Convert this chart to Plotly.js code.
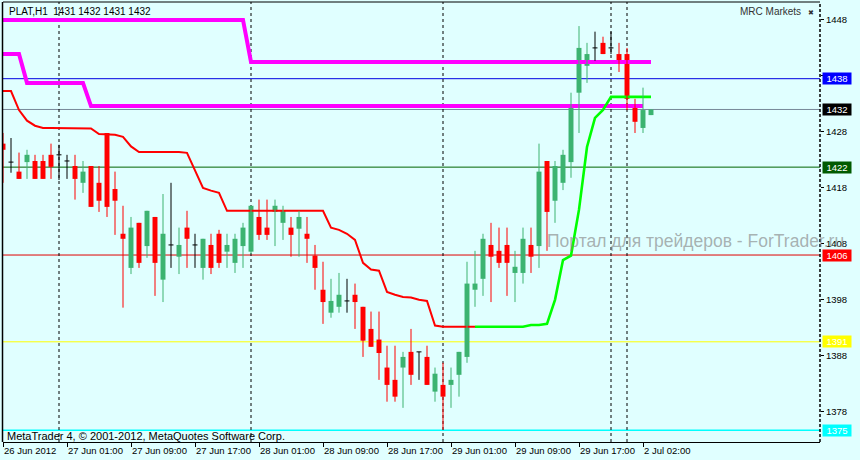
<!DOCTYPE html>
<html><head><meta charset="utf-8">
<script src="https://cdn.plot.ly/plotly-3.0.1.min.js"></script>
<style>html,body{margin:0;padding:0;background:#e0ffff;}#chart{width:860px;height:460px;}</style>
</head><body><div id="chart"></div>
<script>
// ---- bar times (H1) ----
const times = [
"2012.06.26 17:00","2012.06.26 18:00","2012.06.26 19:00","2012.06.26 20:00","2012.06.26 21:00","2012.06.26 22:00","2012.06.26 23:00",
"2012.06.27 00:00","2012.06.27 01:00","2012.06.27 02:00","2012.06.27 03:00","2012.06.27 04:00","2012.06.27 05:00","2012.06.27 06:00","2012.06.27 07:00",
"2012.06.27 08:00","2012.06.27 09:00","2012.06.27 10:00","2012.06.27 11:00","2012.06.27 12:00","2012.06.27 13:00","2012.06.27 14:00","2012.06.27 15:00",
"2012.06.27 16:00","2012.06.27 17:00","2012.06.27 18:00","2012.06.27 19:00","2012.06.27 20:00","2012.06.27 21:00","2012.06.27 22:00","2012.06.27 23:00",
"2012.06.28 00:00","2012.06.28 01:00","2012.06.28 02:00","2012.06.28 03:00","2012.06.28 04:00","2012.06.28 05:00","2012.06.28 06:00","2012.06.28 07:00",
"2012.06.28 08:00","2012.06.28 09:00","2012.06.28 10:00","2012.06.28 11:00","2012.06.28 12:00","2012.06.28 13:00","2012.06.28 14:00","2012.06.28 15:00",
"2012.06.28 16:00","2012.06.28 17:00","2012.06.28 18:00","2012.06.28 19:00","2012.06.28 20:00","2012.06.28 21:00","2012.06.28 22:00","2012.06.28 23:00",
"2012.06.29 00:00","2012.06.29 01:00","2012.06.29 02:00","2012.06.29 03:00","2012.06.29 04:00","2012.06.29 05:00","2012.06.29 06:00","2012.06.29 07:00",
"2012.06.29 08:00","2012.06.29 09:00","2012.06.29 10:00","2012.06.29 11:00","2012.06.29 12:00","2012.06.29 13:00","2012.06.29 14:00","2012.06.29 15:00",
"2012.06.29 16:00","2012.06.29 17:00","2012.06.29 18:00","2012.06.29 19:00","2012.06.29 20:00",
"2012.07.01 22:00","2012.07.01 23:00",
"2012.07.02 00:00","2012.07.02 01:00","2012.07.02 02:00","2012.07.02 03:00"
];

// ---- OHLC ----
const open = [1425.9,1422.6,1420.9,1422.6,1422.8,1422.8,1423.9,1423.9,1422.8,1421.9,
1418.9,1421.9,1418.9,1427.8,1417.8,1409.8,1403.7,1411.75,1407.6,1412.8,
1401.6,1407.8,1405.7,1410.9,1407.8,1403.7,1407.8,1409.8,1406.6,1404.6,
1407.6,1406.6,1412.8,1410.9,1413.7,1411.75,1410.9,1410.7,1409.8,1405.9,
1399.8,1395.7,1396.75,1397.8,1398.9,1396.75,1392.8,1390.9,1385.9,1383.7,
1385.9,1388.7,1388.7,1387.8,1381.6,1382.8,1382.8,1384.6,1387.8,1399.8,
1401.75,1407.8,1406.75,1407.8,1402.8,1402.8,1407.8,1407.6,1422.8,1415.7,
1418.9,1422.6,1435.0,1439.8,1443.0,1443.9,1443.0,1441.9,1441.9,1432.8,
1428.7,1431];
const high = [1427.8,1426.9,1424.3,1424.8,1423.9,1423.9,1425.9,1425.7,1423.9,1423.9,
1422.8,1421.9,1421.9,1427.8,1420.9,1414.8,1412.8,1411.75,1413.9,1412.8,
1416.9,1418.9,1410.9,1413.9,1409.8,1408.9,1409.8,1410.5,1409.8,1409.8,
1411.75,1414.8,1415.9,1415.9,1415.9,1414.8,1412.8,1413.9,1412.8,1407.8,
1404.8,1401.75,1402.8,1401.75,1400.9,1396.75,1395.9,1395.9,1389.8,1389.8,
1388.7,1392.8,1388.7,1389.8,1385.9,1386.75,1385.9,1388.7,1404.8,1406.75,
1409.8,1411.75,1410.9,1410.9,1406.75,1410.9,1410.9,1425.9,1422.8,1422.8,
1424.8,1435.0,1446.9,1443.9,1445.9,1445.0,1445.9,1443.9,1443.0,1433.9,
1435.9,1432];
const low = [1418.9,1420.7,1419.6,1419.6,1419.6,1419.6,1419.6,1419.4,1419.6,1415.9,
1417.1,1414.6,1413.7,1412.8,1409.6,1396.6,1402.6,1403.7,1405.5,1398.7,
1397.6,1403.7,1402.6,1403.7,1403.7,1401.6,1402.6,1403.7,1403.7,1402.8,
1403.7,1406.2,1408.7,1408.7,1407.6,1408.7,1405.7,1405.7,1404.6,1399.8,
1393.7,1394.8,1395.7,1395.7,1392.8,1387.8,1389.6,1383.7,1379.8,1379.8,
1378.7,1382.8,1383.7,1382.8,1379.8,1374.8,1378.7,1380.7,1386.75,1396.75,
1398.7,1397.6,1403.7,1398.7,1397.6,1400.9,1402.8,1403.7,1406.75,1411.75,
1417.6,1419.8,1427.8,1436.75,1440.7,1441.9,1441.9,1438.7,1431.9,1427.8,
1427.8,1431];
const close = [1424.8,1422.6,1419.6,1423.9,1419.6,1419.6,1421.75,1423.9,1422.8,1419.6,
1420.9,1414.6,1415.7,1414.6,1415.7,1408.9,1410.9,1404.6,1413.9,1404.6,
1409.8,1407.8,1407.8,1408.9,1407.8,1408.9,1403.7,1404.6,1407.8,1408.9,
1410.9,1414.8,1409.6,1409.6,1414.8,1413.9,1409.6,1412.8,1408.9,1403.7,
1397.6,1397.8,1398.9,1397.8,1397.6,1390.7,1389.6,1388.5,1382.8,1380.7,
1387.8,1384.6,1388.7,1382.8,1384.8,1380.7,1383.7,1388.7,1400.9,1400.9,
1408.9,1405.7,1404.6,1404.6,1403.9,1408.9,1405.7,1420.9,1413.7,1421.9,
1423.9,1432.8,1443.0,1441.9,1443.0,1441.9,1443.0,1440.7,1433.9,1429.8,
1431.9,1432];

// ---- indicator lines ----
const upperBand = [1448,1448,1448,1448,1448,1448,1448,1448,1448,1448,
1448,1448,1448,1448,1448,1448,1448,1448,1448,1448,
1448,1448,1448,1448,1448,1448,1448,1448,1448,1448,
1448,1440.5,1440.5,1440.5,1440.5,1440.5,1440.5,1440.5,1440.5,1440.5,
1440.5,1440.5,1440.5,1440.5,1440.5,1440.5,1440.5,1440.5,1440.5,1440.5,
1440.5,1440.5,1440.5,1440.5,1440.5,1440.5,1440.5,1440.5,1440.5,1440.5,
1440.5,1440.5,1440.5,1440.5,1440.5,1440.5,1440.5,1440.5,1440.5,1440.5,
1440.5,1440.5,1440.5,1440.5,1440.5,1440.5,1440.5,1440.5,1440.5,1440.5,
1440.5,1440.5];
const innerBand = [1441.9,1441.9,1441.9,1436.75,1436.75,1436.75,1436.75,1436.75,1436.75,1436.75,
1436.75,1432.6,1432.6,1432.6,1432.6,1432.6,1432.6,1432.6,1432.6,1432.6,
1432.6,1432.6,1432.6,1432.6,1432.6,1432.6,1432.6,1432.6,1432.6,1432.6,
1432.6,1432.6,1432.6,1432.6,1432.6,1432.6,1432.6,1432.6,1432.6,1432.6,
1432.6,1432.6,1432.6,1432.6,1432.6,1432.6,1432.6,1432.6,1432.6,1432.6,
1432.6,1432.6,1432.6,1432.6,1432.6,1432.6,1432.6,1432.6,1432.6,1432.6,
1432.6,1432.6,1432.6,1432.6,1432.6,1432.6,1432.6,1432.6,1432.6,1432.6,
1432.6,1432.6,1432.6,1432.6,1432.6,1432.6,1432.6,1432.6,1432.6,1432.6,
1432.6,null];
const trailRed = [1435.3,1435.3,1431.9,1430.0,1429.1,1428.7,1428.7,1428.7,1428.7,1428.7,
1428.7,1428.6,1427.6,1427.5,1427.5,1427.1,1425.4,1424.4,1424.4,1424.4,
1424.4,1424.4,1424.4,1424.25,1421.0,1418.0,1417.5,1417.1,1413.9,1413.9,
1413.9,1413.9,1413.9,1413.9,1413.9,1413.9,1413.9,1413.9,1413.9,1413.9,
1413.9,1410.9,1410.5,1409.8,1408.7,1404.6,1403.4,1403.2,1399.4,1398.9,
1398.5,1398.4,1398.0,1397.8,1393.4,1393.2,1393.2,1393.2,1393.2,1393.2,
null,null,null,null,null,null,null,null,null,null,
null,null,null,null,null,null,null,null,null,null,
null,null];
const trailGreen = [null,null,null,null,null,null,null,null,null,null,
null,null,null,null,null,null,null,null,null,null,
null,null,null,null,null,null,null,null,null,null,
null,null,null,null,null,null,null,null,null,null,
null,null,null,null,null,null,null,null,null,null,
null,null,null,null,null,null,null,null,null,1393.2,
1393.2,1393.2,1393.2,1393.2,1393.2,1393.2,1393.5,1393.5,1393.7,1398.0,
1405.1,1405.9,1414.1,1425.3,1430.5,1431.9,1434.25,1434.25,1434.25,1434.25,
1434.25,1434.25];

// ---- horizontal levels ----
const levelPrices = [1437.5, 1432, 1421.7, 1406, 1390.5, 1374.7];
const levelLineColors = ["#0000e0", "#778899", "#006400", "#e00000", "#ffff00", "#00ffff"];
const levelBoxColors  = ["#0000ff", "#000000", "#005a00", "#ff0000", "#ffff00", "#00ffff"];

// ---- axis labels ----
const tickTimes = ["2012.06.26 17:00","2012.06.27 01:00","2012.06.27 09:00","2012.06.27 17:00","2012.06.28 01:00",
"2012.06.28 09:00","2012.06.28 17:00","2012.06.29 01:00","2012.06.29 09:00","2012.06.29 17:00","2012.07.02 02:00"];
const tickText = ["26 Jun 2012","27 Jun 01:00","27 Jun 09:00","27 Jun 17:00","28 Jun 01:00",
"28 Jun 09:00","28 Jun 17:00","29 Jun 01:00","29 Jun 09:00","29 Jun 17:00","2 Jul 02:00"];
const priceTicks = [1378, 1388, 1398, 1408, 1418, 1428, 1438, 1448];
// the 1438 tick label sits under the blue 1438 level box
const priceTickText = ["1378", "1388", "1398", "1408", "1418", "1428", "", "1448"];

// ---------- build ----------
const FONT = "Liberation Sans, Arial, sans-serif";
const idx = times.map((_, i) => i);
const upI = idx.filter(i => close[i] > open[i]);
const dnI = idx.filter(i => close[i] < open[i]);
const djI = idx.filter(i => close[i] === open[i]);

function wicks(list) {
  const x = [], y = [];
  list.forEach(i => { x.push(i, i, null); y.push(low[i], high[i], null); });
  return {x, y};
}
function bodies(list) {
  return {
    x: list,
    base: list.map(i => Math.min(open[i], close[i])),
    y: list.map(i => Math.abs(close[i] - open[i]))
  };
}
function dojiBodies(list) {
  const x = [], y = [];
  list.forEach(i => { x.push(i - 0.31, i + 0.31, null); y.push(open[i], open[i], null); });
  return {x, y};
}

const UP = "#3cb371", DN = "#ff0000", DJ = "#000000";
const traces = [];
const lineT = (y, color, w) => ({type: "scatter", mode: "lines", x: idx, y: y,
  line: {color: color, width: w}, hoverinfo: "skip", connectgaps: false});
traces.push(lineT(upperBand, "#ff00ff", 4));
traces.push(lineT(innerBand, "#ff00ff", 4));
traces.push(lineT(trailRed, "#ff0000", 2));
traces.push(lineT(trailGreen, "#00ff00", 2.6));

[[upI, UP], [dnI, DN], [djI, DJ]].forEach(([list, c]) => {
  const w = wicks(list);
  traces.push({type: "scatter", mode: "lines", x: w.x, y: w.y, line: {color: c, width: 1}, hoverinfo: "skip"});
});
[[upI, UP], [dnI, DN]].forEach(([list, c]) => {
  const b = bodies(list);
  traces.push({type: "bar", x: b.x, y: b.y, base: b.base, width: 0.62,
    marker: {color: c, line: {width: 0}}, hoverinfo: "skip"});
});
const dj = dojiBodies(djI);
traces.push({type: "scatter", mode: "lines", x: dj.x, y: dj.y, line: {color: DJ, width: 1}, hoverinfo: "skip"});

// pixel helpers for paper placement
const L = 3, R = 820, T = 2, B = 442;
const px = v => (v - L) / (R - L);
const py = v => (B - v) / (B - T);

const shapes = [];
levelPrices.forEach((p, k) => shapes.push({type: "line", layer: "below", xref: "paper", x0: 0, x1: 1,
  yref: "y", y0: p, y1: p, line: {color: levelLineColors[k], width: k === 5 ? 1.5 : 1}}));
idx.forEach(i => {
  if (i > 0 && times[i].slice(0, 10) !== times[i - 1].slice(0, 10)) {
    shapes.push({type: "line", layer: "below", xref: "x", x0: i, x1: i, yref: "paper", y0: 0, y1: 1,
      line: {color: "#000", width: 1, dash: "3px,3px"}});
  }
});
shapes.push({type: "line", xref: "paper", x0: px(2.5), x1: px(2.5), yref: "paper", y0: 0, y1: 1, line: {color: "#000", width: 1.5}});
shapes.push({type: "line", xref: "paper", x0: 0, x1: 1, yref: "paper", y0: 1, y1: 1, line: {color: "#000", width: 1}});
shapes.push({type: "line", xref: "paper", x0: 1, x1: 1, yref: "paper", y0: 0, y1: 1, line: {color: "#000", width: 1.5, dash: "3px,2px"}});

const n = times.length - 1;
const annotations = [];
levelPrices.forEach((p, k) => annotations.push({xref: "paper", x: 1, xanchor: "left", xshift: 2,
  yref: "y", y: p, yanchor: "middle", text: String(Math.round(p)), showarrow: false,
  bgcolor: levelBoxColors[k], width: 28, height: 11, borderpad: 0, align: "center",
  font: {family: FONT, size: 9.5, color: "#ffffff"}}));
annotations.push({xref: "paper", x: px(7), xanchor: "left", yref: "paper", y: py(11), yanchor: "middle",
  text: "PLAT,H1  " + [open[n], high[n], low[n], close[n]].map(v => Math.round(v)).join(" "),
  showarrow: false, font: {family: FONT, size: 10, color: "#000"}});
annotations.push({xref: "paper", x: px(803), xanchor: "right", yref: "paper", y: py(12), yanchor: "middle",
  text: "MRC Markets", showarrow: false, font: {family: FONT, size: 10, color: "#333"}});
annotations.push({xref: "paper", x: px(811), xanchor: "center", yref: "paper", y: py(13), yanchor: "middle",
  text: "✖", showarrow: false, font: {family: "DejaVu Sans", size: 7, color: "#333"}});
annotations.push({xref: "paper", x: px(545), xanchor: "left", yref: "paper", y: py(241), yanchor: "middle",
  text: "Портал для трейдеров - ForTrader.ru", showarrow: false,
  font: {family: FONT, size: 17.5, color: "rgba(128,128,128,0.62)"}});
annotations.push({xref: "paper", x: px(5), xanchor: "left", yref: "paper", y: py(436), yanchor: "middle",
  text: "MetaTrader 4, © 2001-2012, MetaQuotes Software Corp.", showarrow: false,
  font: {family: FONT, size: 11, color: "#000"}});

const layout = {
  width: 860, height: 460,
  margin: {l: L, r: 860 - R, t: T, b: 460 - B, pad: 0},
  paper_bgcolor: "#e0ffff", plot_bgcolor: "#e0ffff",
  showlegend: false, barmode: "overlay", hovermode: false,
  xaxis: {range: [0, (R - L) / 8], showgrid: false, zeroline: false, showline: true, linecolor: "#000", linewidth: 1,
    tickvals: tickTimes.map(t => times.indexOf(t)), ticktext: tickText,
    ticks: "outside", ticklen: 4, tickcolor: "#000", ticklabelposition: "outside right",
    tickfont: {family: FONT, size: 9.5, color: "#000"}, fixedrange: true},
  yaxis: {range: [1372.6, 1451.2], side: "right", showgrid: false, zeroline: false, showline: false,
    tickvals: priceTicks, ticktext: priceTickText, ticks: "outside", ticklen: 3, tickcolor: "#000",
    tickfont: {family: FONT, size: 9.5, color: "#000"}, fixedrange: true},
  shapes: shapes, annotations: annotations
};
Plotly.newPlot("chart", traces, layout, {displayModeBar: false, staticPlot: true});
</script>
</body></html>
